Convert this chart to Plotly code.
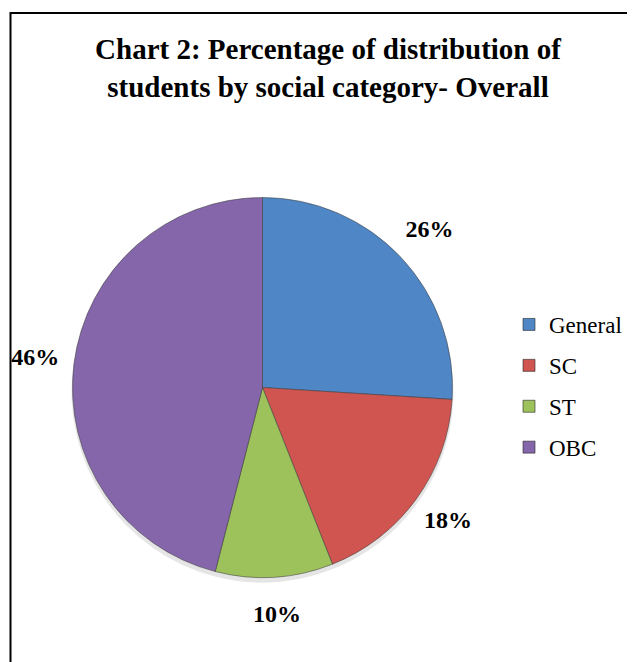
import plotly.graph_objects as go

categories = ["General", "SC", "ST", "OBC"]
shares = [26, 18, 10, 46]
colors = ["#4F86C6", "#D05450", "#9EC25B", "#8566AA"]
title_lines = ["Chart 2: Percentage of distribution of",
               "students by social category- Overall"]

W, H = 635, 662
# the page body adds an 8px offset, so figure coordinates are page - 8
cx, cy, R = 254.5, 379.5, 190
RL = 240          # polar subplot radius used for the percentage labels
LABEL_R = 0.955   # label distance as a fraction of the polar radius


def dom(r, dy=0.0):
    return dict(x=[(cx - r) / W, (cx + r) / W],
                y=[1 - (cy + dy + r) / H, 1 - (cy + dy - r) / H])


total = sum(shares)
cum = 0
mid_deg = []
for v in shares:
    mid_deg.append((cum + v / 2) / total * 360)
    cum += v
pct_text = [f"{round(v / total * 100)}%" for v in shares]

fig = go.Figure()

# soft shadow
fig.add_trace(go.Pie(
    labels=categories, values=shares, sort=False, direction="clockwise", rotation=0,
    marker=dict(colors=["rgba(0,0,0,0.10)"] * len(shares), line=dict(width=0)),
    textinfo="none", showlegend=False, hoverinfo="skip", domain=dom(R + 1, 4),
))

# main pie
fig.add_trace(go.Pie(
    labels=categories, values=shares, sort=False, direction="clockwise", rotation=0,
    marker=dict(colors=colors, line=dict(color="rgba(60,60,60,0.55)", width=1)),
    textinfo="none", showlegend=False, hoverinfo="label+percent", domain=dom(R),
))

# percentage labels placed on a hidden polar subplot aligned with the pie
fig.add_trace(go.Scatterpolar(
    r=[LABEL_R] * len(shares), theta=mid_deg, mode="text", text=pct_text,
    textfont=dict(family="Liberation Serif", size=24, color="black", weight="bold"),
    textposition="middle center", cliponaxis=False, showlegend=False, hoverinfo="skip",
))

# legend entries
for cat, col in zip(categories, colors):
    fig.add_trace(go.Scatter(
        x=[None], y=[None], mode="markers", name=cat, legendgroup=cat,
        marker=dict(symbol="square", size=12, color=col,
                    line=dict(color="rgba(40,40,40,0.6)", width=1)),
        hoverinfo="skip",
    ))

fig.update_layout(
    width=W, height=H,
    margin=dict(l=0, r=0, t=0, b=0),
    paper_bgcolor="white", plot_bgcolor="white",
    xaxis=dict(visible=False), yaxis=dict(visible=False),
    polar=dict(domain=dom(RL), bgcolor="rgba(0,0,0,0)",
               radialaxis=dict(visible=False, range=[0, 1]),
               angularaxis=dict(visible=False, direction="clockwise", rotation=90)),
    title=dict(text="<br>".join(title_lines), x=320 / W, xref="paper", xanchor="center",
               y=1 - 51 / H, yref="container", yanchor="top",
               font=dict(family="Liberation Serif", size=29, color="black", weight="bold")),
    legend=dict(x=501 / W, xanchor="left", y=1 - 295 / H, yanchor="top",
                font=dict(family="Liberation Serif", size=23, color="black"),
                tracegroupgap=8, traceorder="grouped", bgcolor="rgba(0,0,0,0)"),
    shapes=[dict(type="rect", xref="paper", yref="paper",
                 x0=2.5 / W, x1=1.2, y0=-0.2, y1=1 - 5 / H,
                 line=dict(color="black", width=2))],
)

fig.write_html("out.html")
